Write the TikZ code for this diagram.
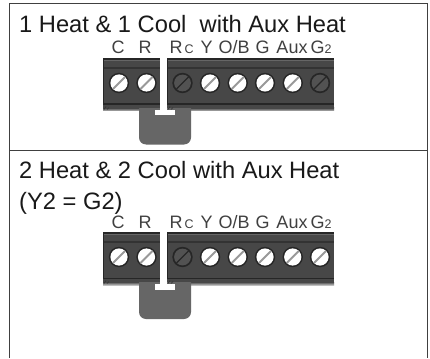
\documentclass[tikz,border=0pt]{standalone}
\usepackage{fontspec}
\setmainfont{Liberation Sans}
\usetikzlibrary{calc}
\newcommand{\smallsub}{\fontsize{12.5}{13}\selectfont}
\tikzset{
  frameline/.style={draw=black!75,line width=1pt},
  title/.style={anchor=base west,inner sep=0pt,font=\fontsize{23.7}{26}\selectfont,text=black!90},
  term/.style={anchor=base,inner sep=0pt,font=\fontsize{18}{20}\selectfont,text=black!75},
  housing/.style={fill=black!72},
  jumper/.style={fill=black!60},
  tick/.style={draw=black!80,line width=0.6pt},
}
\newcommand{\screw}[3]{% x, y, kind
  \ifnum#3=1
    \fill[black!85] (#1,#2) circle (10.2);
    \fill[black!68] (#1,#2) circle (8.4);
    \draw[black!85,line width=1.1pt] ($(#1,#2)+(-6,-6)$) -- ($(#1,#2)+(6,6)$);
  \else
    \fill[black!85] (#1,#2) circle (10.2);
    \fill[white] (#1,#2) circle (8.6);
    \draw[black!40,line width=2pt] ($(#1,#2)+(-6.2,-6.2)$) -- ($(#1,#2)+(6.2,6.2)$);
  \fi
}
\newcommand{\strip}[3]{% top y of housing, screw kind for last, jumper bottom (relative)
  \pgfmathsetmacro{\yy}{-(#1)}
  \begin{scope}[shift={(0,\yy)}]
    % housing fade at the lower edge
    \foreach \xa/\xb in {103/160,167/334}{
      \shade[top color=black!72,bottom color=black!25] (\xa,-50) rectangle (\xb,-53);
    }
    % jumper
    \fill[jumper,rounded corners=7pt] (139,-40) rectangle (191,-#3);
    \fill[white] (155,-52) rectangle (175,-57.5);
    \fill[white] (160,0) rectangle (167,-57.5);
    % housings
    \foreach \xa/\xb in {103/160,167/334}{
      \fill[housing] (\xa,0) rectangle (\xb,-50);
      \fill[black!85] (\xa,0) rectangle (\xb,-2);
      \fill[black!80] (\xa,-9.2) rectangle (\xb,-11.2);
      \fill[black!60] (\xa,-2) rectangle (\xb,-3.2);
      \fill[black!85] (\xa,-45.5) rectangle (\xb,-47);
      \fill[black!85] (\xa,-2) rectangle (\xa+1.2,-46);
      \draw[tick] (\xa+1,-51.5) -- (\xa+3,-48.5) (\xa+4,-51.5) -- (\xa+6,-49.5);
    }
    % screws
    \screw{119}{-25}{0}
    \screw{146.5}{-25}{0}
    \screw{182.5}{-25}{1}
    \screw{210}{-25}{0}
    \screw{237.7}{-25}{0}
    \screw{265}{-25}{0}
    \screw{292.7}{-25}{0}
    \screw{320}{-25}{#2}
  \end{scope}
}
\begin{document}
\begin{tikzpicture}[x=1pt,y=1pt]
\useasboundingbox (0,0) rectangle (430,-358);
\fill[white] (0,0) rectangle (430,-358);
% frame
\draw[frameline] (9.5,-358) -- (9.5,-4) -- (427,-4) -- (427,-358);
\draw[frameline] (9.5,-150.5) -- (427,-150.5);
% panel 1
\strip{58}{1}{86.5}
\node[title] (t1) at (19,-33) {1 Heat \& 1 Cool\ \ with Aux Heat};
\node[term] (c1) at (118,-54) {C};
\node[term] (r1) at (145,-54) {R};
\node[term] (rc1) at (181.7,-54) {R{\smallsub\,C}};
\node[term] (y1) at (206.7,-54) {Y};
\node[term] (ob1) at (234,-54) {O/B};
\node[term] (g1) at (262.5,-54) {G};
\node[term] (aux1) at (292,-54) {Aux};
\node[term] (g21) at (321,-54) {G{\smallsub 2}};
% panel 2
\strip{232}{0}{87}
\node[title] (t2) at (19,-178) {2 Heat \& 2 Cool with Aux Heat};
\node[title] (t3) at (19,-209.5) {(Y2 = G2)};
\node[term] (c2) at (118,-228.7) {C};
\node[term] (r2) at (145,-228.7) {R};
\node[term] (rc2) at (181.7,-228.7) {R{\smallsub\,C}};
\node[term] (y2) at (206.7,-228.7) {Y};
\node[term] (ob2) at (234,-228.7) {O/B};
\node[term] (g2) at (262.5,-228.7) {G};
\node[term] (aux2) at (292,-228.7) {Aux};
\node[term] (g22) at (321,-228.7) {G{\smallsub 2}};
\end{tikzpicture}
\end{document}
